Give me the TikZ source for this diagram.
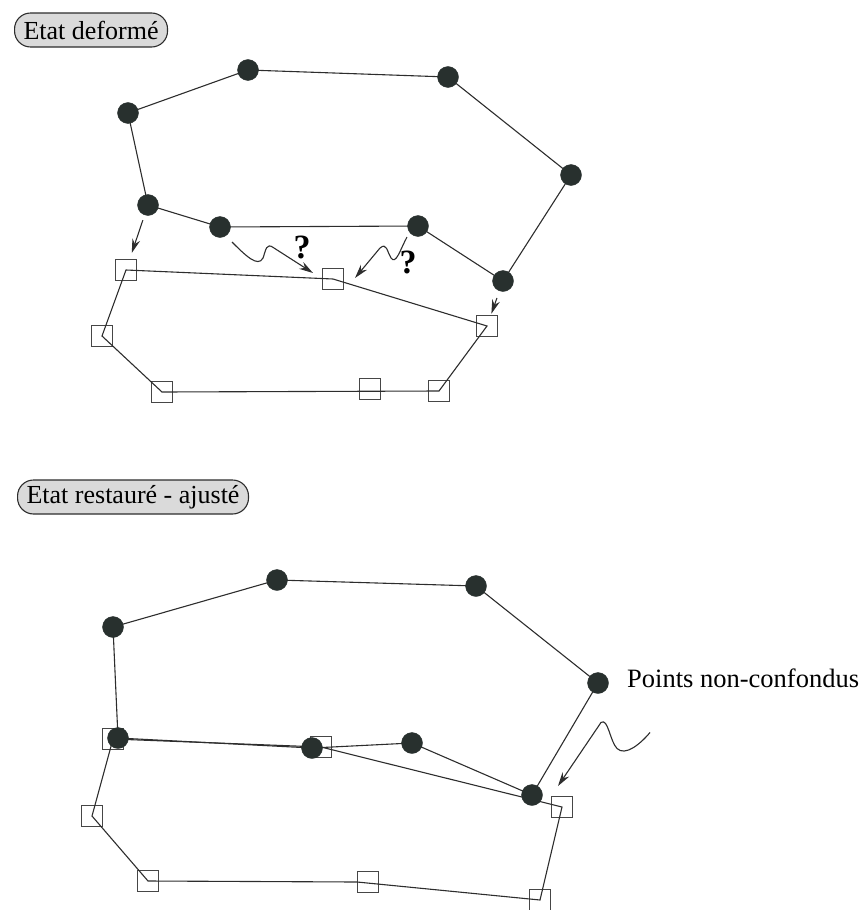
\documentclass[tikz,border=0pt]{standalone}
\usepackage{fontspec}
\setmainfont{Liberation Serif}
\usetikzlibrary{arrows.meta,calc}
\definecolor{dotc}{RGB}{40,48,46}
\definecolor{linec}{RGB}{45,45,45}
\definecolor{sqc}{RGB}{70,70,70}
\definecolor{tagc}{RGB}{218,218,218}
\begin{document}
\begin{tikzpicture}[x=1pt,y=-1pt,
  dot/.style={circle,fill=dotc,draw=dotc,minimum size=21pt,inner sep=0pt},
  sq/.style={rectangle,draw=sqc,line width=0.8pt,minimum size=21pt,inner sep=0pt},
  edge/.style={draw=linec,line width=1.1pt},
  arr/.style={draw=linec,line width=1.1pt,-{Stealth[length=14pt,width=8pt]}},
  tag/.style={draw=linec,line width=1.1pt,fill=tagc,rounded corners=16pt,minimum height=34pt,inner xsep=9pt,inner ysep=0pt,font=\fontsize{26}{30}\selectfont},
  qm/.style={font=\fontsize{34}{38}\selectfont\bfseries,inner sep=0pt},
  txt/.style={font=\fontsize{26.5}{31}\selectfont,inner sep=0pt},
]
\useasboundingbox (0,0) rectangle (859,910);

% ---------------- top: Etat deforme ----------------
\node[tag,anchor=west] (lab1) at (14,30) {Etat deformé};

\coordinate (A) at (128,113);
\coordinate (B) at (248,70);
\coordinate (C) at (448,77);
\coordinate (D) at (571,175);
\coordinate (E) at (503,281);
\coordinate (F) at (418,226);
\coordinate (G) at (220,227);
\coordinate (H) at (148,205);

\node[sq] (S1) at (126,270) {};
\node[sq] (S2) at (333,279) {};
\node[sq] (S3) at (487,326) {};
\node[sq] (S4) at (439,391) {};
\node[sq] (S5) at (370,389) {};
\node[sq] (S6) at (162,392) {};
\node[sq] (S7) at (102,336) {};

\draw[edge] (S1.center) -- (S2.center) -- (S3.center) -- (S4.center) -- (S6.center) -- (S7.center) -- cycle;
\draw[edge] (A) -- (B) -- (C) -- (D) -- (E) -- (F) -- (G) -- (H) -- cycle;

\foreach \p in {A,B,C,D,E,F,G,H} \node[dot] (dot\p) at (\p) {};

\draw[arr,shorten <=16pt,shorten >=18pt] (H) -- (S1.center);
\draw[arr,shorten <=18pt,shorten >=13pt] (E) -- (S3.center);
\draw[arr] ($(G)+(12,15)$) .. controls ($(G)+(25,28)$) and ($(G)+(38,41)$) .. ($(G)+(43,31)$)
   .. controls ($(G)+(46,23)$) and ($(G)+(46,15)$) .. ($(G)+(54,21)$) -- ($(S2)+(-20,-6)$);
\draw[arr] ($(F)+(-11,11)$) .. controls ($(F)+(-18,24)$) and ($(F)+(-22,39)$) .. ($(F)+(-27,32)$)
   .. controls ($(F)+(-31,26)$) and ($(F)+(-31,16)$) .. ($(F)+(-38,22)$) -- ($(S2)+(22,-1)$);
\node[qm] (q1) at (302,247) {?};
\node[qm] (q2) at (408,262) {?};

% ---------------- bottom: Etat restaure - ajuste ----------------
\node[tag,anchor=west] (lab2) at (17,497) {Etat restauré - ajusté};

\coordinate (a) at (113,627);
\coordinate (b) at (277,580);
\coordinate (c) at (476,586);
\coordinate (d) at (598,683);
\coordinate (e) at (532,795);
\coordinate (f) at (412,743);
\coordinate (g) at (312,748);
\coordinate (h) at (118,738);

\node[sq] (s1) at (113,739) {};
\node[sq] (s2) at (321,747) {};
\node[sq] (s3) at (562,807) {};
\node[sq] (s4) at (540,900) {};
\node[sq] (s5) at (368,882) {};
\node[sq] (s6) at (148,881) {};
\node[sq] (s7) at (92,816) {};

\draw[edge] (s1.center) -- (s2.center) -- (s3.center) -- (s4.center) -- (s5.west) -- (s6.center) -- (s7.center) -- cycle;
\draw[edge] (a) -- (b) -- (c) -- (d) -- (e) -- (f) -- (g) -- (h) -- cycle;

\foreach \p in {a,b,c,d,e,f,g,h} \node[dot] (dot\p) at (\p) {};

\node[txt,anchor=base west] (pts) at (627,687) {Points non-confondus};
\draw[arr] ($(pts.south west)+(23,45)$) .. controls ($(pts.south west)+(13,57)$) and ($(pts.south west)+(-2,69)$) .. ($(pts.south west)+(-10,61)$)
   .. controls ($(pts.south west)+(-17,54)$) and ($(pts.south west)+(-19,30)$) .. ($(pts.south west)+(-26,35)$) -- ($(s3)+(-4,-21)$);
\end{tikzpicture}
\end{document}
